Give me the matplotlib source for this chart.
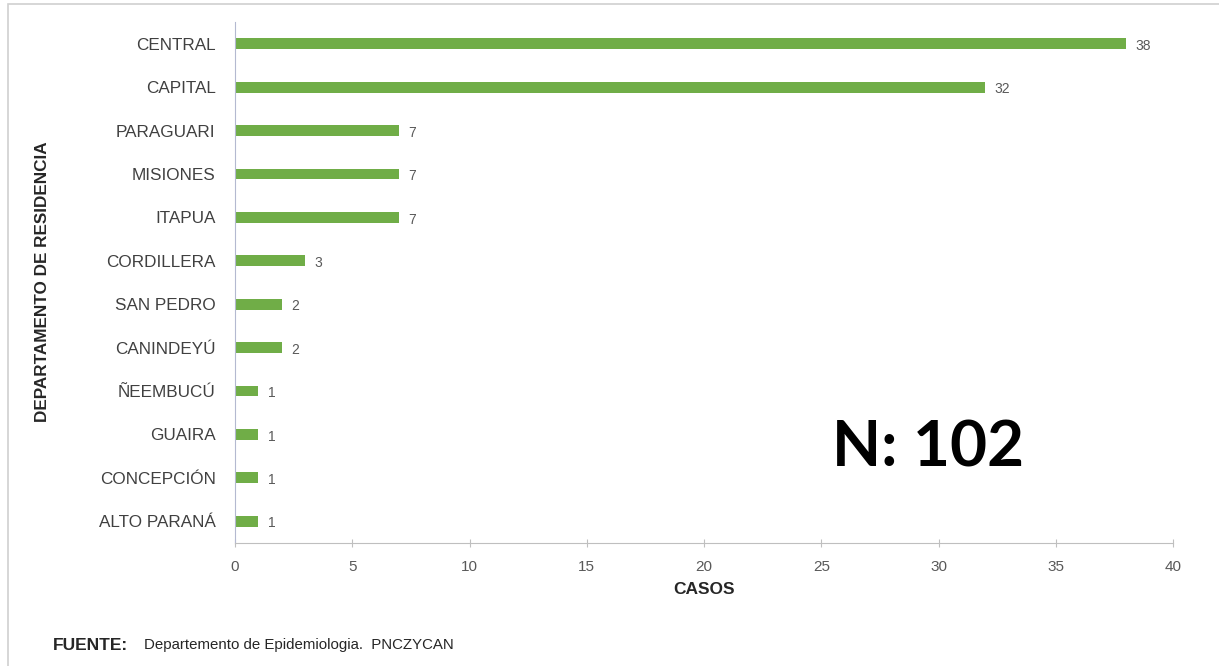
import matplotlib.pyplot as plt
from matplotlib.patches import Rectangle

plt.rcParams['font.family'] = ['Liberation Sans', 'DejaVu Sans']

departamentos = ["CENTRAL", "CAPITAL", "PARAGUARI", "MISIONES", "ITAPUA", "CORDILLERA",
                 "SAN PEDRO", "CANINDEYÚ", "ÑEEMBUCÚ", "GUAIRA", "CONCEPCIÓN", "ALTO PARANÁ"]
casos = [38, 32, 7, 7, 7, 3, 2, 2, 1, 1, 1, 1]
x_ticks = [0, 5, 10, 15, 20, 25, 30, 35, 40]
total = sum(casos)

verde = "#70AD47"
gris = "#404040"

fig = plt.figure(figsize=(12.19, 6.66), dpi=100)
ax = fig.add_axes([0.1928, 0.1847, 0.7695, 0.7823])

pos = list(range(len(departamentos)))
ax.barh(pos, casos, height=0.25, color=verde)

# etiquetas de valor
for p, v in zip(pos, casos):
    ax.text(v + 0.4, p + 0.05, str(v), va="center", ha="left", fontsize=10, color="#595959")

ax.set_ylim(len(departamentos) - 0.5, -0.5)
ax.set_xlim(0, 40)
ax.set_yticks(pos)
ax.set_yticklabels(departamentos, fontsize=12.3, color=gris)
ax.set_xticks(x_ticks)
ax.set_xticklabels([str(t) for t in x_ticks], fontsize=11, color="#595959")

for s in ["top", "right"]:
    ax.spines[s].set_visible(False)
ax.spines["bottom"].set_color("#BFBFBF")
ax.spines["left"].set_color("#B4B9D0")
ax.tick_params(axis="y", length=0, pad=14)
ax.tick_params(axis="x", direction="inout", length=6, color="#BFBFBF", pad=9)

ax.set_xlabel("CASOS", fontsize=12.5, fontweight="bold", color="#262626", labelpad=6)
fig.text(0.0345, 0.577, "DEPARTAMENTO DE RESIDENCIA", rotation=90, fontsize=12.3,
         fontweight="bold", color="#262626", ha="center", va="center")

fig.text(0.761, 0.328, f"N: {total}", fontsize=46, fontweight="bold",
         family=["Lato", "DejaVu Sans"], color="black", ha="center", va="center")

fig.text(0.043, 0.031, "FUENTE:", fontsize=12.5, fontweight="bold", color="#262626",
         ha="left", va="center")
fig.text(0.1185, 0.031, "Departemento de Epidemiologia.  PNCZYCAN", fontsize=10.8,
         color="#262626", ha="left", va="center")

# marco gris claro
fig.patches.append(Rectangle((0.0065, -0.01), 1.0, 1.004, transform=fig.transFigure,
                             fill=False, edgecolor="#D0D0D0", linewidth=1.2))

fig.savefig("out.png", dpi=100)
